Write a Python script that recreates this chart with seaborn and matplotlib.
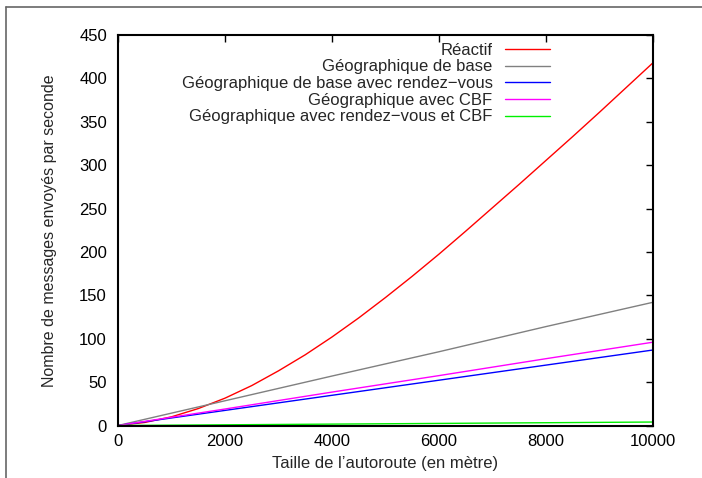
import pandas as pd
import matplotlib
matplotlib.use('Agg')
import matplotlib.pyplot as plt
from matplotlib.lines import Line2D
import seaborn as sns

# Taille de l'autoroute (m)
x_reactif = [0, 500, 1000, 1500, 2000, 2500, 3000, 3500, 4000, 4500, 5000,
             5500, 6000, 6500, 7000, 7500, 8000, 8500, 9000, 9500, 10000]
reactif = [0, 3.5, 10, 19.5, 31.5, 46, 63, 81.5, 102, 124, 147.5,
           172, 197.5, 224, 251, 278, 305.5, 333, 361, 389.5, 418]

x_lin = [0, 2000, 4000, 6000, 8000, 10000]
geo_base = [0, 28.5, 57, 85, 114, 142]
geo_rdv = [0, 17.4, 34.8, 52.2, 69.6, 87]
geo_cbf = [0, 19, 38.5, 57.5, 77, 96]
geo_rdv_cbf = [0, 0.8, 1.6, 2.4, 3.2, 4]

labels = ["Réactif", "Géographique de base", "Géographique de base avec rendez\u2212vous",
          "Géographique avec CBF", "Géographique avec rendez\u2212vous et CBF"]
colors = ["#ff0000", "#808080", "#0000ff", "#ff00ff", "#00f000"]

rows = []
for xv, yv in zip(x_reactif, reactif):
    rows.append((labels[0], xv, yv))
for lab, ys in zip(labels[1:], [geo_base, geo_rdv, geo_cbf, geo_rdv_cbf]):
    for xv, yv in zip(x_lin, ys):
        rows.append((lab, xv, yv))
df = pd.DataFrame(rows, columns=["serie", "taille", "messages"])

sns.set_style("white")
plt.rcParams['font.family'] = ['Liberation Sans', 'DejaVu Sans']
plt.rcParams['font.size'] = 12

fig = plt.figure(figsize=(7.02, 4.78), dpi=100)
ax = fig.add_axes([118 / 702, 1 - 425.5 / 478, 535 / 702, 390.5 / 478])

sns.lineplot(data=df, x="taille", y="messages", hue="serie", hue_order=labels,
             palette=dict(zip(labels, colors)), linewidth=1.0, ax=ax,
             legend=False, estimator=None, sort=False)

ax.set_xlim(0, 10000)
ax.set_ylim(0, 450)
ax.set_xticks(range(0, 10001, 2000))
ax.set_yticks(range(0, 451, 50))
ax.tick_params(direction='in', length=5, width=1, top=True, right=True,
               labelsize=12, colors='black')
ax.tick_params(axis='y', pad=8)
ax.tick_params(axis='x', pad=6)
for s in ax.spines.values():
    s.set_visible(True)
    s.set_color('black')
    s.set_linewidth(1.5)

ax.set_xlabel("Taille de l\u2019autoroute (en mètre)", fontsize=12, labelpad=5)
ax.set_ylabel("Nombre de messages envoyés par seconde", fontsize=11.5, labelpad=16)

handles = [Line2D([], [], color=c, linewidth=1.0) for c in colors]
ax.legend(handles, labels, loc='upper right', bbox_to_anchor=(432 / 535, 0.98),
          frameon=False, markerfirst=False, handlelength=2.7, handletextpad=0.75,
          labelspacing=0.1, borderpad=0, borderaxespad=0, fontsize=12)

# page frame
fig.add_artist(Line2D([6 / 702, 1.0], [1 - 7 / 478, 1 - 7 / 478], color='#666666', linewidth=1.2))
fig.add_artist(Line2D([6 / 702, 6 / 702], [0, 1 - 7 / 478], color='#666666', linewidth=1.2))

fig.savefig("out.png", dpi=100)
